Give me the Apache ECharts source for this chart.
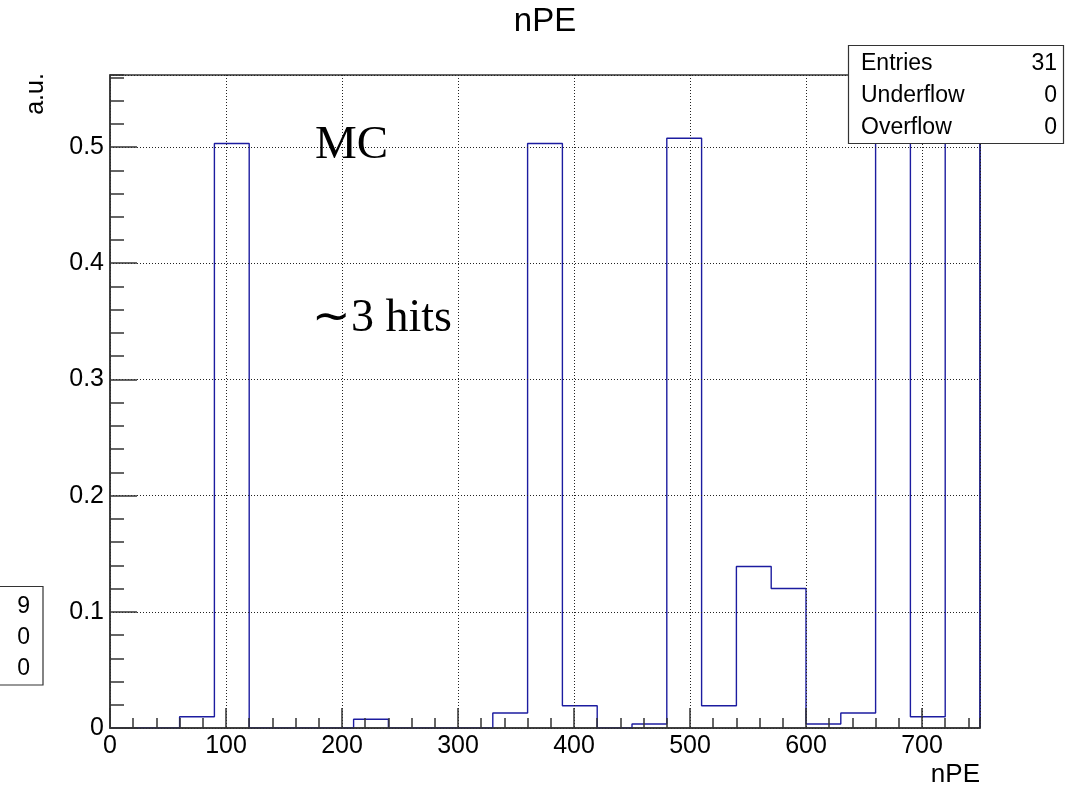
<!DOCTYPE html>
<html>
<head>
<meta charset="utf-8">
<script src="https://cdn.jsdelivr.net/npm/echarts@6/dist/echarts.min.js"></script>
<style>
html,body{margin:0;padding:0;background:#fff;}
#chart{width:1068px;height:790px;}
</style>
</head>
<body>
<div id="chart"></div>
<script>
// Histogram bin edges (nPE) and bin contents (a.u.)
const binEdges = [0,30,60,90,120,150,180,210,240,270,300,330,360,390,420,450,480,510,540,570,600,630,660,690,720,750];
const binValues = [0,0,0.0097,0.503,0,0,0,0.0075,0,0,0,0.0129,0.503,0.0192,0,0.0034,0.5075,0.0192,0.139,0.120,0.0034,0.0129,0.80,0.0097,0.80];
const xMajorTicks = [0,100,200,300,400,500,600,700];
const yMajorTicks = [0,0.1,0.2,0.3,0.4,0.5];
const statsLabels = ['Entries','Underflow','Overflow'];
const statsValues = ['31','0','0'];
const hiddenStatsValues = ['9','0','0'];
const titleText = 'nPE';
const xTitle = 'nPE';
const yTitle = 'a.u.';
const notes = ['MC','\u223C3 hits'];

const X_MIN = 0, X_MAX = 750, Y_MIN = 0, Y_MAX = 0.562;

// outline of the histogram: step path along bin edges
const path = [[binEdges[0], 0]];
for (let i = 0; i < binValues.length; i++) {
  path.push([binEdges[i], binValues[i]]);
  path.push([binEdges[i + 1], binValues[i]]);
}
path.push([binEdges[binEdges.length - 1], 0]);

const SANS = 'Liberation Sans, Arial, Helvetica, sans-serif';
const SERIF = 'Liberation Serif, Times New Roman, serif';
const AX = '#333';

const chart = echarts.init(document.getElementById('chart'), null, {renderer: 'canvas'});

const stats = [];
stats.push({type:'rect', z:100, shape:{x:848.5, y:45.5, width:215, height:98}, style:{fill:'#fff', stroke:'#333', lineWidth:1.2}});
statsLabels.forEach((t,i)=>{
  stats.push({type:'text', z:101, x:861, y:64+32*i, style:{text:t, font:'23px '+SANS, fill:'#000', textAlign:'left', textVerticalAlign:'middle'}});
  stats.push({type:'text', z:101, x:1057, y:64+32*i, style:{text:statsValues[i], font:'23px '+SANS, fill:'#000', textAlign:'right', textVerticalAlign:'middle'}});
});
stats.push({type:'rect', z:100, shape:{x:-2, y:586.5, width:45, height:98.5}, style:{fill:'#fff', stroke:'#333', lineWidth:1.2}});
hiddenStatsValues.forEach((t,i)=>{
  stats.push({type:'text', z:101, x:30, y:607+31*i, style:{text:t, font:'23px '+SANS, fill:'#000', textAlign:'right', textVerticalAlign:'middle'}});
});

const texts = [
  {type:'text', z:50, x:545, y:22, style:{text:titleText, font:'33px '+SANS, fill:'#000', textAlign:'center', textVerticalAlign:'middle'}},
  {type:'text', z:50, x:36, y:94, rotation:Math.PI/2, style:{text:yTitle, font:'25px '+SANS, fill:'#000', textAlign:'center', textVerticalAlign:'middle'}},
  {type:'text', z:50, x:980, y:775, style:{text:xTitle, font:'26px '+SANS, fill:'#000', textAlign:'right', textVerticalAlign:'middle'}},
  {type:'text', z:50, x:315, y:146, style:{text:notes[0], font:'47px '+SERIF, fill:'#000', textAlign:'left', textVerticalAlign:'middle'}},
  {type:'text', z:50, x:312, y:319, style:{text:notes[1], font:'46px '+SERIF, fill:'#000', textAlign:'left', textVerticalAlign:'middle'}}
];

const fmtY = v => {
  const r = Math.round(v*10)/10;
  return yMajorTicks.some(t => Math.abs(t - r) < 1e-9) && Math.abs(v - r) < 1e-6 ? (r === 0 ? '0' : r.toFixed(1)) : '';
};
const fmtX = v => xMajorTicks.indexOf(Math.round(v)) >= 0 ? String(Math.round(v)) : '';

chart.setOption({
  animation: false,
  backgroundColor: '#fff',
  grid: {left:110, top:75, width:870, height:653, show:true, borderColor:AX, borderWidth:1.5, backgroundColor:'transparent'},
  xAxis: [
    {type:'value', min:X_MIN, max:X_MAX, interval:100, position:'bottom', z:3,
     axisLine:{show:true, lineStyle:{color:AX, width:1.5}},
     axisTick:{show:true, inside:true, length:20, lineStyle:{color:AX, width:1.5}},
     axisLabel:{show:true, showMaxLabel:false, margin:6, fontSize:25, fontFamily:SANS, color:'#000', formatter:fmtX},
     splitLine:{show:true, lineStyle:{color:'#222', type:[1,2], width:1}}},
    {type:'value', min:X_MIN, max:X_MAX, interval:20, position:'bottom', z:3,
     axisLine:{show:false},
     axisTick:{show:true, inside:true, length:10, lineStyle:{color:AX, width:1.5}},
     axisLabel:{show:false}, splitLine:{show:false}}
  ],
  yAxis: [
    {type:'value', min:Y_MIN, max:Y_MAX, interval:0.1, position:'left', z:3,
     axisLine:{show:true, lineStyle:{color:AX, width:1.5}},
     axisTick:{show:true, inside:true, length:27, lineStyle:{color:AX, width:1.5}},
     axisLabel:{show:true, showMaxLabel:false, margin:6, fontSize:25, fontFamily:SANS, color:'#000', formatter:fmtY},
     splitLine:{show:true, lineStyle:{color:'#222', type:[1,2], width:1}}},
    {type:'value', min:Y_MIN, max:Y_MAX, interval:0.02, position:'left', z:3,
     axisLine:{show:false},
     axisTick:{show:true, inside:true, length:14, lineStyle:{color:AX, width:1.5}},
     axisLabel:{show:false}, splitLine:{show:false}}
  ],
  series: [{
    type:'line', xAxisIndex:0, yAxisIndex:0, data:path, showSymbol:false, symbol:'none',
    clip:true, z:2, lineStyle:{color:'#1c1ca0', width:1.4}
  }],
  graphic: texts.concat(stats)
});
</script>
</body>
</html>
